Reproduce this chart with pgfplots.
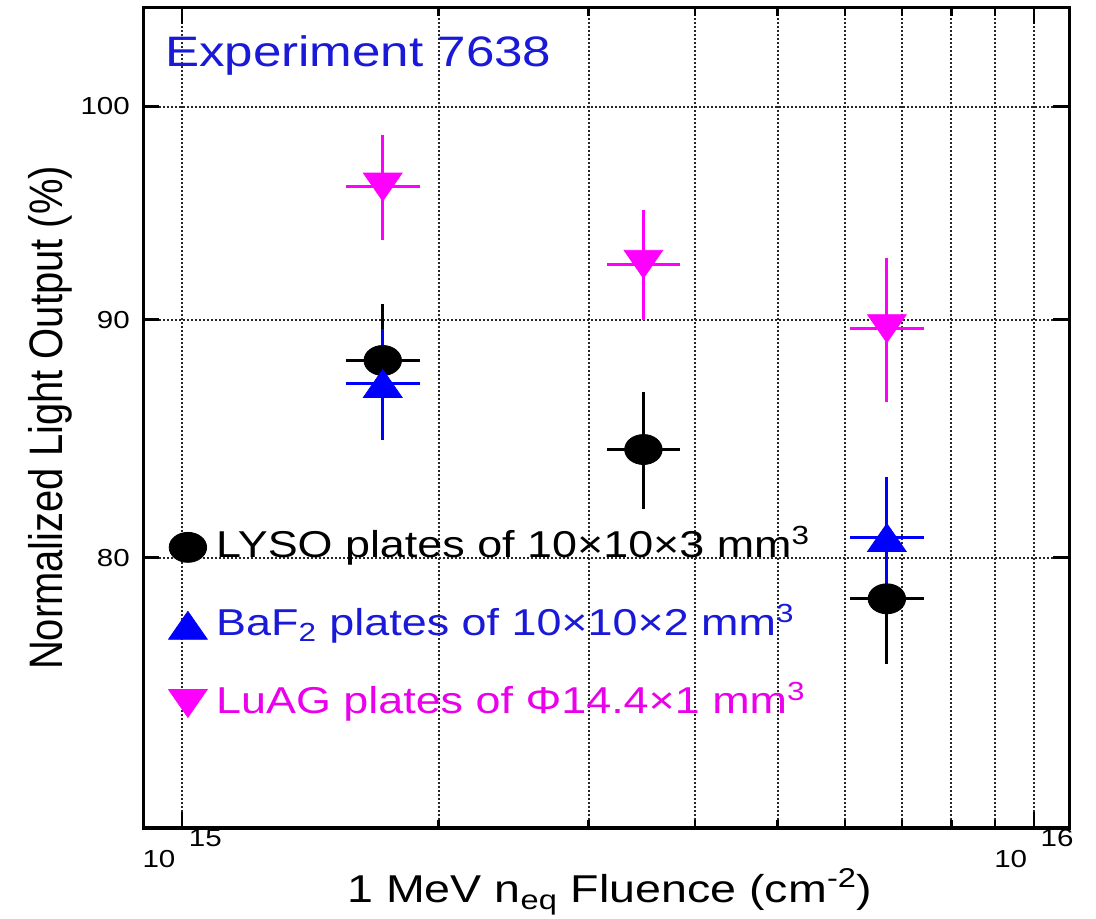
\documentclass[border=0pt]{standalone}
\usepackage{pgfplots}
\usepackage{pgfplotstable}
\pgfplotsset{compat=1.18}
\usepackage{fontspec}
\setmainfont[FakeStretch=1.2]{Liberation Sans}
\newfontfamily\ylabfont[FakeStretch=0.85]{Liberation Sans}
\definecolor{mblue}{RGB}{0,0,255}
\definecolor{mmag}{RGB}{255,0,255}
\definecolor{tblue}{RGB}{25,25,215}
\definecolor{tmag}{RGB}{235,0,235}

\pgfplotstableread{
x y exp exm eyp eym
1.72e15 88.2 0.18e15 0.163e15 2.5 2.5
3.48e15 84.4 0.365e15 0.33e15 2.45 2.45
6.72e15 78.4 0.706e15 0.639e15 2.5 2.5
}\lyso
\pgfplotstableread{
x y exp exm eyp eym
1.72e15 87.2 0.18e15 0.163e15 2.4 2.4
6.72e15 80.8 0.706e15 0.639e15 2.45 2.45
}\baf
\pgfplotstableread{
x y exp exm eyp eym
1.72e15 96.1 0.18e15 0.163e15 2.5 2.5
3.48e15 92.5 0.365e15 0.33e15 2.5 2.5
6.72e15 89.6 0.706e15 0.639e15 3.2 3.2
}\luag

\begin{document}
\begin{tikzpicture}
\begin{axis}[
  scale only axis,
  width=463pt, height=410pt,
  xmode=log, ymode=log,
  xmin=9e14, xmax=1.1e16, ymin=70, ymax=105,
  axis line style={line width=1.6pt},
  xtick={1e15,1e16},
  xticklabels={10\hspace{0.55em}\raisebox{0.85em}{15},10\hspace{0.55em}\raisebox{0.85em}{16}},
  minor xtick={2e15,3e15,4e15,5e15,6e15,7e15,8e15,9e15},
  ytick={80,90,100}, yticklabels={80,90,100},
  grid=both,
  major grid style={black!85, line width=1pt, dash pattern=on 1pt off 1pt},
  minor grid style={black!85, line width=1pt, dash pattern=on 1pt off 1pt},
  tick style={black, line width=1.3pt},
  major tick length=8pt, minor tick length=4pt,
  tick align=inside,
  ticklabel style={font=\fontsize{12.3}{14}\selectfont, text=black},
  xticklabel style={inner sep=0pt, anchor=north, yshift=-0.5pt},
  yticklabel style={inner sep=0pt, anchor=east, xshift=-6.5pt},
  xlabel={1 MeV n\textsubscript{eq} Fluence (cm\textsuperscript{-2})},
  ylabel={Normalized Light Output (\%)},
  xlabel style={at={(axis description cs:0.504,-0.0915)}, anchor=base, font=\fontsize{19.4}{22}\selectfont},
  ylabel style={at={(axis description cs:-0.0875,0.5)}, anchor=base, rotate=0, font=\ylabfont\fontsize{23.5}{26}\selectfont},
  legend style={at={(rel axis cs:0.027,0.367)}, anchor=north west, draw=none, fill=none,
    font=\fontsize{18.7}{22}\selectfont, row sep=19pt, column sep=3.5pt, inner sep=0pt,
    nodes={inner sep=1pt, text height=14pt, text depth=4pt}},
  legend cell align=left,
  error bars/error bar style={line width=1.5pt},
]
\addlegendimage{only marks, mark=*, black, mark size=7.5pt, mark options={xscale=1.25}}
\addlegendentry{\textcolor{black}{LYSO plates of 10×10×3 mm\textsuperscript{3}}}
\addlegendimage{only marks, mark=triangle*, mblue, mark size=9.3pt, mark options={yshift=-2.3pt, xscale=1.2}}
\addlegendentry{\textcolor{tblue}{BaF\textsubscript{2} plates of 10×10×2 mm\textsuperscript{3}}}
\addlegendimage{only marks, mark=triangle*, mmag, mark size=9.3pt, mark options={yshift=2.3pt, rotate=180, xscale=1.2}}
\addlegendentry{\textcolor{tmag}{LuAG plates of Φ14.4×1 mm\textsuperscript{3}}}

\addplot[only marks, mark=*, black, mark size=7.5pt, mark options={xscale=1.25}, forget plot,
  error bars/.cd, x dir=both, x explicit, y dir=both, y explicit, error mark=none]
  table[x=x, y=y, x error plus=exp, x error minus=exm, y error plus=eyp, y error minus=eym] {\lyso};
\addplot[only marks, mark=triangle*, mblue, mark size=9.3pt, mark options={yshift=-2.3pt, xscale=1.2}, forget plot,
  error bars/.cd, x dir=both, x explicit, y dir=both, y explicit, error mark=none]
  table[x=x, y=y, x error plus=exp, x error minus=exm, y error plus=eyp, y error minus=eym] {\baf};
\addplot[only marks, mark=triangle*, mmag, mark size=9.3pt, mark options={yshift=2.3pt, rotate=180, xscale=1.2}, forget plot,
  error bars/.cd, x dir=both, x explicit, y dir=both, y explicit, error mark=none]
  table[x=x, y=y, x error plus=exp, x error minus=exm, y error plus=eyp, y error minus=eym] {\luag};

\node[anchor=base west, text=tblue, font=\fontsize{21.3}{24}\selectfont] at (rel axis cs:0.016,0.928) {Experiment 7638};
\end{axis}
\pgfresetboundingbox
\useasboundingbox (-71.5pt,-45pt) rectangle (476.5pt,414pt);
\end{tikzpicture}
\end{document}
